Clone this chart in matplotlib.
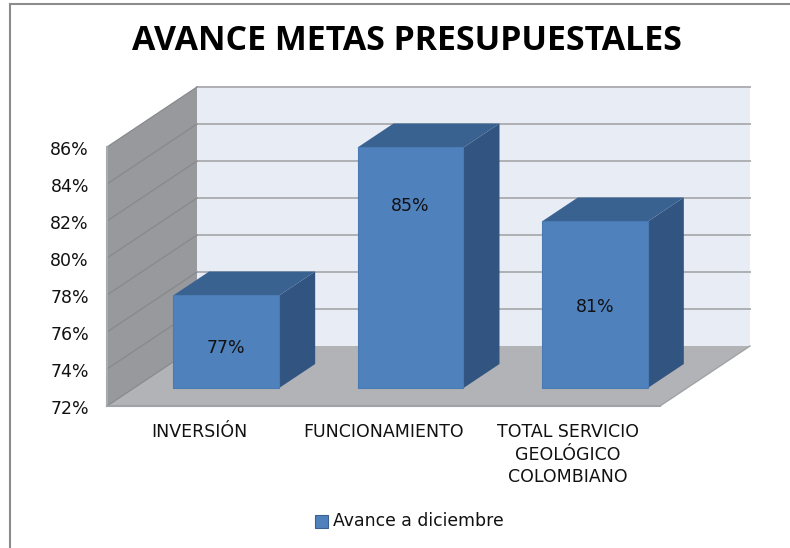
import matplotlib
matplotlib.use('Agg')
import matplotlib.pyplot as plt
from matplotlib.patches import Polygon, Rectangle
from matplotlib.lines import Line2D
from matplotlib.transforms import ScaledTranslation

# data
categories = ['INVERSIÓN', 'FUNCIONAMIENTO', 'TOTAL SERVICIO\nGEOLÓGICO\nCOLOMBIANO']
values = [77, 85, 81]
ticks = [72, 74, 76, 78, 80, 82, 84, 86]
series_name = 'Avance a diciembre'

W, H = 790, 548
# front plane of the 3d box in pixels
left, right, top, bottom = 107, 660, 147, 406
depth_px_x, depth_px_y = 90, 60

plt.rcParams['font.family'] = 'DejaVu Sans'
plt.rcParams['font.stretch'] = 'normal'

fig = plt.figure(figsize=(W / 100, H / 100), dpi=100)
ax = fig.add_axes([left / W, 1 - bottom / H, (right - left) / W, (bottom - top) / H])
ax.set_xlim(0, len(categories))
ax.set_ylim(ticks[0], ticks[-1])
for s in ax.spines.values():
    s.set_visible(False)
ax.patch.set_visible(False)

dx = depth_px_x / ((right - left) / len(categories))
dy = depth_px_y / ((bottom - top) / (ticks[-1] - ticks[0]))
ymin, ymax = ticks[0], ticks[-1]
xmax = len(categories)


def pt(x, y, d):
    # oblique projection, d=0 front plane, d=1 back wall
    return (x + d * dx, y + d * dy)


def poly(points, color, z, edge='none', lw=0):
    ax.add_patch(Polygon(points, closed=True, facecolor=color, edgecolor=edge,
                         linewidth=lw, zorder=z, clip_on=False))


# walls and floor
poly([pt(0, ymin, 1), pt(xmax, ymin, 1), pt(xmax, ymax, 1), pt(0, ymax, 1)], '#E8ECF5', 1)
poly([pt(0, ymin, 0), pt(0, ymin, 1), pt(0, ymax, 1), pt(0, ymax, 0)], '#97999C', 1)
poly([pt(0, ymin, 0), pt(xmax, ymin, 0), pt(xmax, ymin, 1), pt(0, ymin, 1)], '#B2B3B6', 2)

# gridlines
for t in ticks:
    if t > ymin:
        a, b = pt(0, t, 1), pt(xmax, t, 1)
        ax.plot([a[0], b[0]], [a[1], b[1]], color='#AEB0B4', lw=1.4, zorder=2, clip_on=False)
    a, b = pt(0, t, 0), pt(0, t, 1)
    ax.plot([a[0], b[0]], [a[1], b[1]], color='#87898C', lw=0.9, zorder=2, clip_on=False)
# box outline
ax.plot([0, 0], [ymin, ymax], color='#A9ABAF', lw=1.5, zorder=3, clip_on=False)
ax.plot([0, xmax], [ymin, ymin], color='#A0A2A5', lw=1.5, zorder=3, clip_on=False)
a, b = pt(xmax, ymin, 0), pt(xmax, ymin, 1)
ax.plot([a[0], b[0]], [a[1], b[1]], color='#A0A2A5', lw=1, zorder=3, clip_on=False)

# bars
bar_w = 0.575
d0, d1 = 0.3, 0.7
label_frac = [0.43, 0.757, 0.488]  # where the value label sits in each bar
for i, v in enumerate(values):
    x0 = i + 0.5 - bar_w / 2 + d0 * dx
    x1 = x0 + bar_w
    y0 = ymin + d0 * dy
    y1 = y0 + (v - ymin)
    bd = d1 - d0
    poly([(x1, y0), (x1 + bd * dx, y0 + bd * dy), (x1 + bd * dx, y1 + bd * dy), (x1, y1)], '#325480', 5)
    poly([(x0, y1), (x1, y1), (x1 + bd * dx, y1 + bd * dy), (x0 + bd * dx, y1 + bd * dy)], '#3A6291', 5)
    poly([(x0, y0), (x1, y0), (x1, y1), (x0, y1)], '#4F81BD', 6, edge='#4A7AB3', lw=0.8)
    ax.text((x0 + x1) / 2, y0 + (v - ymin) * label_frac[i], '%d%%' % v, ha='center', va='center',
            fontsize=12.5, color='#111111', zorder=7)

ax.set_yticks(ticks)
ax.set_yticklabels(['%d%%' % t for t in ticks], fontsize=12.5, color='#111111')
ax.set_xticks([i + 0.5 for i in range(len(categories))])
ax.set_xticklabels(categories, fontsize=12.5, color='#111111', linespacing=1.35)
ax.tick_params(axis='y', length=0, pad=13)
ax.tick_params(axis='x', length=0, pad=12)
shift = ScaledTranslation(0, -1 / 100, fig.dpi_scale_trans)
for lab in ax.get_yticklabels():
    lab.set_transform(lab.get_transform() + shift)

# title
fig.text(407 / W, 1 - 41 / H, 'AVANCE METAS PRESUPUESTALES', ha='center', va='center',
         fontsize=24.4, fontweight='bold', family='Open Sans', stretch='normal', color='black')

# legend
fig.add_artist(Rectangle((314.5 / W, 1 - 528 / H), 13.5 / W, 13 / H, transform=fig.transFigure,
                         facecolor='#4F81BD', edgecolor='#3A6291', linewidth=0.8))
fig.text(333 / W, 1 - 521 / H, series_name, ha='left', va='center', fontsize=12.4, color='#111111')

# chart frame, open on the right and bottom
fig.add_artist(Line2D([9.5 / W, 9.5 / W], [0, 1 - 4 / H], transform=fig.transFigure, color='#8C8C8C', lw=1.5))
fig.add_artist(Line2D([9.5 / W, 1], [1 - 4 / H, 1 - 4 / H], transform=fig.transFigure, color='#8C8C8C', lw=1.5))

fig.savefig('out.png', dpi=100)
